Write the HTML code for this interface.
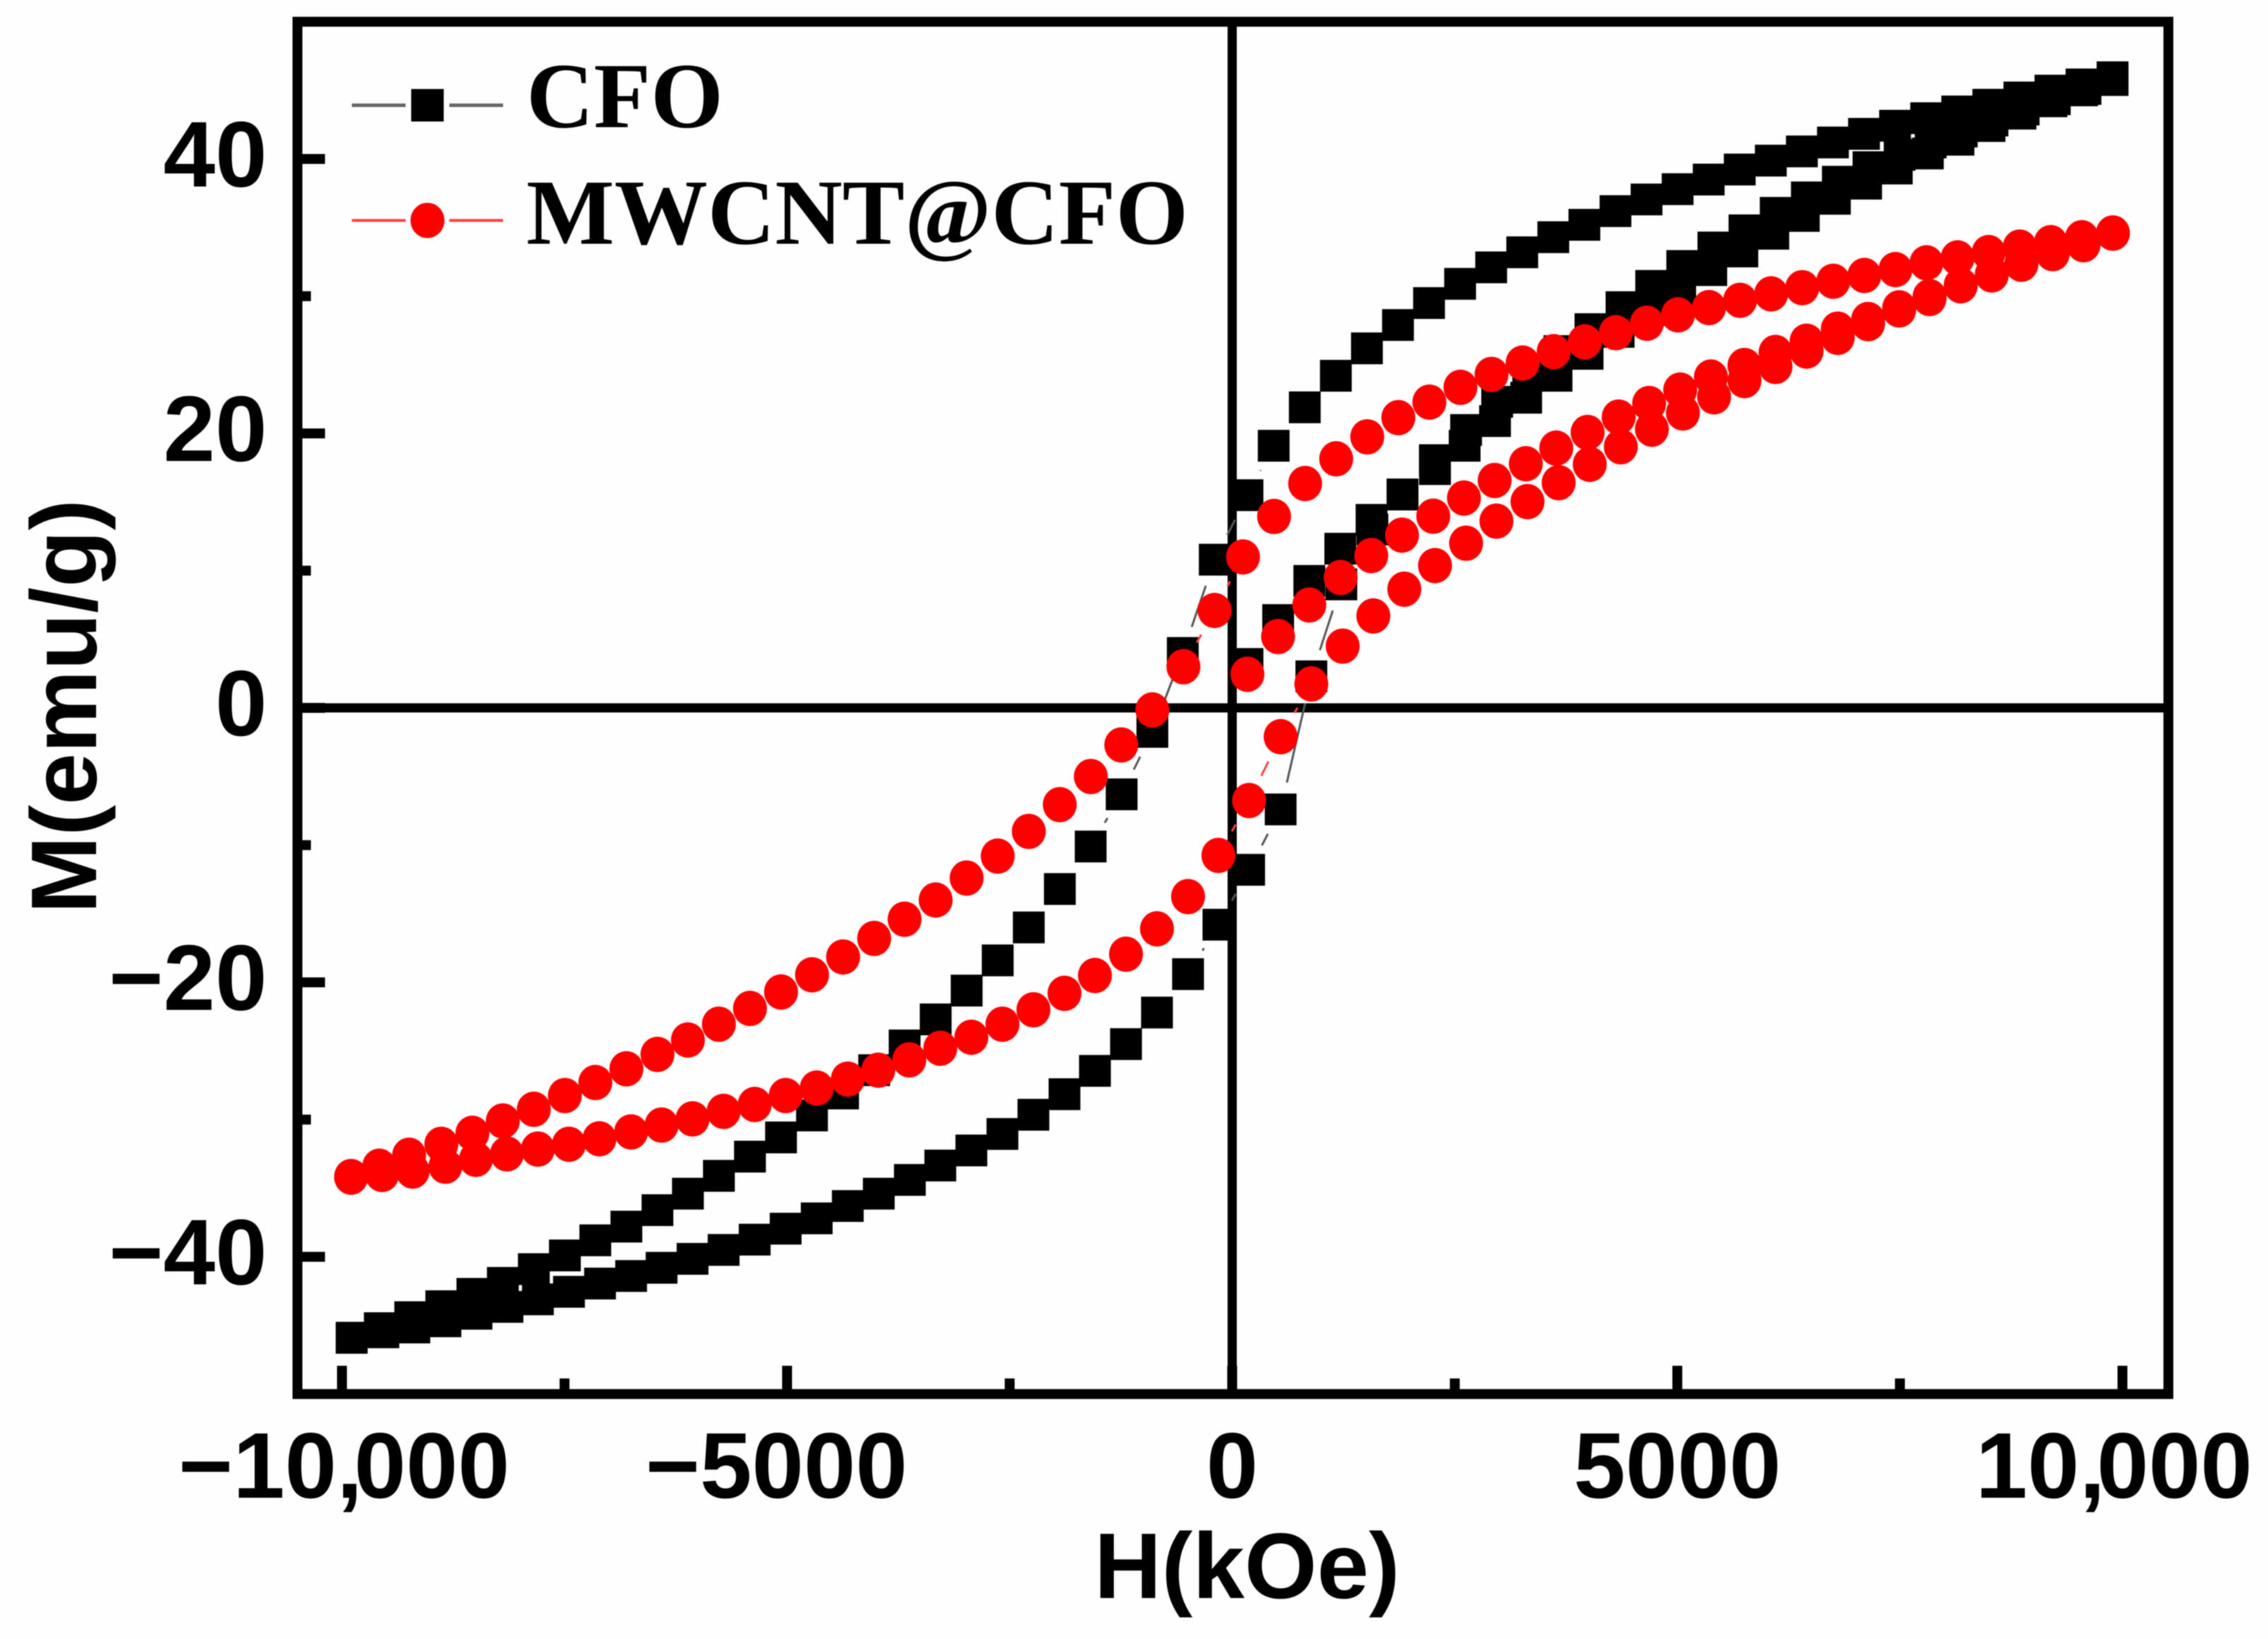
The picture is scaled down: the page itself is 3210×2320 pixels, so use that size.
<!DOCTYPE html>
<html lang="en">
<head>
<meta charset="utf-8">
<title>Magnetic hysteresis of CFO and MWCNT@CFO</title>
<style>
html,body{margin:0;padding:0;background:#fefefe;width:3210px;height:2320px;overflow:hidden}
svg{display:block;filter:blur(0.8px)}
text{fill:#000}
.tick{font:bold 132px "Liberation Sans",Arial,sans-serif}
.title{font:bold 132px "Liberation Sans",Arial,sans-serif}
.legend{font:bold 132px "Liberation Serif","Times New Roman",serif}
</style>
</head>
<body>
<svg id="chart" xmlns="http://www.w3.org/2000/svg" width="3210" height="2320" viewBox="0 0 3210 2320">
  <g id="axes-under"></g>
  <g id="series-cfo"></g>
  <g id="series-mwcnt"></g>
  <g id="frame"></g>
  <g id="ticks"></g>
  <text class="title" x="1765" y="2262" text-anchor="middle">H(kOe)</text>
  <text class="title" transform="translate(136 1000) rotate(-90)" text-anchor="middle">M(emu/g)</text>
  <g>
    <g>
      <line x1="498" y1="149" x2="574" y2="149" stroke="#666" stroke-width="5"/>
      <line x1="636" y1="149" x2="712" y2="149" stroke="#666" stroke-width="5"/>
      <rect x="582" y="126" width="46" height="46" fill="#000"/>
      <text class="legend" x="745" y="180">CFO</text>
    </g>
    <g>
      <line x1="498" y1="312" x2="574" y2="312" stroke="#ff4040" stroke-width="4"/>
      <line x1="636" y1="312" x2="712" y2="312" stroke="#ff4040" stroke-width="4"/>
      <ellipse cx="605" cy="312" rx="24" ry="25" fill="#ff0000"/>
      <text class="legend" x="745" y="345">MWCNT@CFO</text>
    </g>
  </g>
</svg>
<script>
// ---- chart data (H in Oe, M in emu/g) ----
const xTickValues = [-10000, -5000, 0, 5000, 10000];
const xTickLabels = ["\u221210,000", "\u22125000", "0", "5000", "10,000"];
const xMinorTicks = [-7500, -2500, 2500, 7500];
const yTickValues = [40, 20, 0, -20, -40];
const yTickLabels = ["40", "20", "0", "\u221220", "\u221240"];
const yMinorTicks = [30, 10, -10, -30];

const cfoInitialH = [172,516,866,1214,1565,1913,2276,2627,2976,3325,3675,4024,4373,4706,5055,5405,5754,6105,6455,6803,7147,7497,7846,8195,8540,8890,9240,9585,9889];
const cfoInitialM = [3.2,6.4,9.25,11.6,13.7,15.55,18.05,20.25,22.3,24.2,26.0,27.6,29.2,30.75,32.2,33.55,34.8,36.07,37.2,38.34,39.4,40.3,41.2,42.0,42.8,43.6,44.35,45.1,45.95];

const cfoDownH = [9889,9540,9191,8842,8493,8144,7795,7446,7097,6748,6399,6050,5701,5352,5003,4654,4305,3956,3607,3258,2909,2560,2211,1862,1513,1164,815,466,172,-196,-555,-897,-1242,-1590,-1936,-2285,-2634,-2983,-3331,-3680,-4022,-4371,-4720,-5068,-5417,-5766,-6114,-6456,-6805,-7154,-7496,-7845,-8193,-8535,-8884,-9233,-9575,-9891];
const cfoDownM = [45.95,45.43,44.98,44.48,43.95,43.46,42.97,42.42,41.83,41.2,40.55,39.88,39.23,38.5,37.8,37.05,36.2,35.2,34.3,33.2,32.1,30.9,29.5,27.9,26.2,24.2,21.9,19.1,15.5,10.8,4.0,-1.75,-6.3,-10.1,-13.2,-16.0,-18.4,-20.6,-22.7,-24.6,-26.4,-28.1,-29.7,-31.3,-32.7,-34.1,-35.4,-36.6,-37.8,-38.8,-39.9,-40.9,-41.9,-42.7,-43.6,-44.4,-45.2,-45.9];

const cfoUpH = [-9891,-9535,-9187,-8838,-8489,-8141,-7799,-7450,-7101,-6752,-6410,-6062,-5713,-5364,-5016,-4667,-4318,-3970,-3621,-3279,-2930,-2581,-2233,-1884,-1542,-1193,-845,-496,-155,190,544,889,1226,1575,1913,2278,2611,2952,3302,3643,3992,4341,4690,5032,5381,5730,6078,6421,6770,7121,7465,7814,8158,8507,8855,9202,9546,9889];
const cfoUpM = [-45.9,-45.5,-45.15,-44.7,-44.15,-43.65,-43.1,-42.55,-41.95,-41.4,-40.8,-40.15,-39.5,-38.75,-37.95,-37.2,-36.3,-35.4,-34.4,-33.35,-32.25,-31.05,-29.65,-28.15,-26.45,-24.5,-22.2,-19.4,-15.8,-11.8,-7.4,2.3,9.0,13.0,15.55,17.4,19.1,20.9,22.6,24.2,25.8,27.4,29.0,30.45,31.9,33.26,34.55,35.85,37.1,38.2,39.3,40.4,41.4,42.4,43.3,44.2,45.0,45.75];

const mwcntInitialH = [171,515,866,1218,1562,1907,2258,2603,2948,3298,3640,3992,4341,4683,5032,5377,5754,6103,6452,6802,7143,7492,7833,8183,8532,8865,9217,9563,9893];
const mwcntInitialM = [2.45,5.2,7.5,9.5,11.1,12.59,13.97,15.29,16.57,17.79,18.93,20.07,21.19,22.18,23.16,24.11,24.95,25.9,26.72,27.6,28.3,29.15,29.97,30.76,31.55,32.33,33.1,33.8,34.6];

const mwcntDownH = [9893,9544,9195,8846,8497,8148,7799,7450,7101,6752,6403,6054,5705,5356,5007,4658,4309,3960,3611,3262,2913,2564,2215,1866,1517,1168,819,470,121,-198,-548,-897,-1246,-1588,-1937,-2285,-2634,-2983,-3331,-3680,-4022,-4371,-4720,-5068,-5417,-5766,-6114,-6456,-6805,-7154,-7496,-7845,-8193,-8535,-8884,-9246,-9581,-9897];
const mwcntDownM = [34.6,34.26,33.9,33.58,33.18,32.79,32.43,31.94,31.51,31.09,30.62,30.17,29.7,29.17,28.64,28.03,27.34,26.67,25.96,25.13,24.3,23.36,22.28,21.15,19.75,18.15,16.35,13.95,11.0,7.1,3.0,-0.15,-2.7,-5.0,-7.05,-9.0,-10.8,-12.4,-14.0,-15.4,-16.8,-18.15,-19.45,-20.7,-21.9,-23.05,-24.2,-25.25,-26.3,-27.3,-28.25,-29.25,-30.1,-31.0,-31.8,-32.6,-33.4,-34.2];

const mwcntUpH = [-9897,-9549,-9206,-8838,-8496,-8147,-7799,-7450,-7108,-6752,-6410,-6062,-5713,-5364,-5016,-4667,-4318,-3976,-3627,-3279,-2930,-2581,-2233,-1884,-1542,-1193,-845,-496,-155,190,544,889,1241,1585,1933,2278,2627,2968,3317,3667,4016,4365,4714,5063,5413,5754,6103,6452,6802,7143,7492,7833,8183,8532,8865,9217,9563,9893];
const mwcntUpM = [-34.15,-34.0,-33.75,-33.4,-32.9,-32.5,-32.15,-31.8,-31.4,-30.9,-30.4,-29.95,-29.4,-28.9,-28.25,-27.7,-27.05,-26.4,-25.65,-24.8,-24.0,-23.05,-22.0,-20.8,-19.5,-17.95,-16.1,-13.75,-10.75,-6.75,-2.1,1.75,4.5,6.7,8.65,10.37,12.0,13.61,15.03,16.41,17.75,19.03,20.31,21.49,22.67,23.85,24.88,26.0,27.0,28.0,29.0,29.83,30.8,31.6,32.4,33.12,33.75,34.6];

// ---- axis functions ----
const H_MIN = -10500, H_MAX = 10516, M_MIN = -50, M_MAX = 50;
function xScale(h){ return 1744 + 0.126 * h; }
function yScale(m){ return 1002 - 19.425 * m; }

const NS = "http://www.w3.org/2000/svg";
function make(tag, attrs, parent){
  const el = document.createElementNS(NS, tag);
  for (const k in attrs) el.setAttribute(k, attrs[k]);
  parent.appendChild(el);
  return el;
}

// zero axes
const under = document.getElementById("axes-under");
const vAxis = make("line", {x1:xScale(0), x2:xScale(0), y1:yScale(M_MAX), y2:yScale(M_MIN), stroke:"#000", "stroke-width":13}, under);


const hAxis = make("line", {x1:xScale(H_MIN), x2:xScale(H_MAX), y1:yScale(0), y2:yScale(0), stroke:"#000", "stroke-width":13}, under);



// frame
const frameGroup = document.getElementById("frame");
const frameRect = make("rect", {x:xScale(H_MIN), y:yScale(M_MAX), width:xScale(H_MAX)-xScale(H_MIN), height:yScale(M_MIN)-yScale(M_MAX), fill:"none", stroke:"#000", "stroke-width":14}, frameGroup);



// ticks and labels
const tickGroup = document.getElementById("ticks");
const xLabelNudge = [3, -15, 0, 0, -12];
xTickValues.forEach(function(v, i){
  const t = make("line", {x1:xScale(v), x2:xScale(v), y1:yScale(M_MIN), y2:yScale(M_MIN)-40, stroke:"#000", "stroke-width":14}, tickGroup);
  
  
  const l = make("text", {x:xScale(v)+xLabelNudge[i], y:2120, "text-anchor":"middle", class:"tick"}, tickGroup);
  l.textContent = xTickLabels[i];
  const comma = xTickLabels[i].indexOf(",");
  if (comma >= 0) {
    // tighter kerning after the thousands separator
    l.setAttribute("dx", new Array(comma + 1).fill("0").join(" ") + " -12");
  }
  
  
});
xMinorTicks.forEach(function(v){
  const t = make("line", {x1:xScale(v), x2:xScale(v), y1:yScale(M_MIN), y2:yScale(M_MIN)-22, stroke:"#000", "stroke-width":14}, tickGroup);
  
  
});
yTickValues.forEach(function(v, i){
  const t = make("line", {x1:xScale(H_MIN), x2:xScale(H_MIN)+39, y1:yScale(v), y2:yScale(v), stroke:"#000", "stroke-width":14}, tickGroup);
  
  
  const l = make("text", {x:378, y:yScale(v)+39, "text-anchor":"end", class:"tick"}, tickGroup);
  l.textContent = yTickLabels[i];
  
  
});
yMinorTicks.forEach(function(v){
  const t = make("line", {x1:xScale(H_MIN), x2:xScale(H_MIN)+19, y1:yScale(v), y2:yScale(v), stroke:"#000", "stroke-width":14}, tickGroup);
  
  
});

// series: connecting lines with a gap around each symbol, then symbols
const SYMBOL_GAP = 39;
function drawLine(group, hs, ms, color){
  for (let i = 0; i + 1 < hs.length; i++){
    const x1 = xScale(hs[i]), y1 = yScale(ms[i]), x2 = xScale(hs[i+1]), y2 = yScale(ms[i+1]);
    const d = Math.hypot(x2-x1, y2-y1);
    if (d <= 2*SYMBOL_GAP) continue;
    const ux = (x2-x1)/d, uy = (y2-y1)/d;
    const seg = make("line", {x1:x1+ux*SYMBOL_GAP, y1:y1+uy*SYMBOL_GAP, x2:x2-ux*SYMBOL_GAP, y2:y2-uy*SYMBOL_GAP, stroke:color, "stroke-width":3}, group);
    
    
  }
}
function drawSquares(group, hs, ms){
  hs.forEach(function(h, i){
    const s = make("rect", {x:xScale(h)-22.5, y:yScale(ms[i])-22.5, width:45, height:45, fill:"#000"}, group);
    
    
  });
}
function drawCircles(group, hs, ms){
  hs.forEach(function(h, i){
    const c = make("ellipse", {cx:xScale(h), cy:yScale(ms[i]), rx:24, ry:25, fill:"#ff0000"}, group);
    
    
  });
}
const gCfo = document.getElementById("series-cfo");
const gMw = document.getElementById("series-mwcnt");
[[cfoInitialH,cfoInitialM],[cfoDownH,cfoDownM],[cfoUpH,cfoUpM]].forEach(function(b){ drawLine(gCfo, b[0], b[1], "#555"); });
[[cfoInitialH,cfoInitialM],[cfoDownH,cfoDownM],[cfoUpH,cfoUpM]].forEach(function(b){ drawSquares(gCfo, b[0], b[1]); });
[[mwcntInitialH,mwcntInitialM],[mwcntDownH,mwcntDownM],[mwcntUpH,mwcntUpM]].forEach(function(b){ drawLine(gMw, b[0], b[1], "#ff4040"); });
[[mwcntInitialH,mwcntInitialM],[mwcntDownH,mwcntDownM],[mwcntUpH,mwcntUpM]].forEach(function(b){ drawCircles(gMw, b[0], b[1]); });
</script>
</body>
</html>
